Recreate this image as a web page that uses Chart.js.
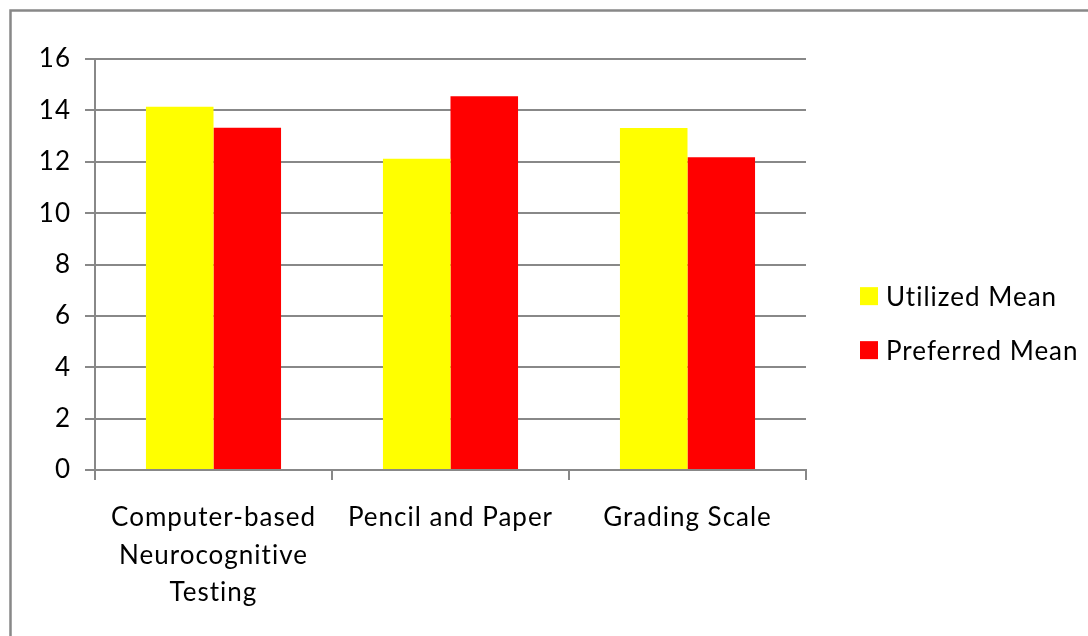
<!DOCTYPE html>
<html>
<head>
<meta charset="utf-8">
<script src="https://cdn.jsdelivr.net/npm/chart.js@4"></script>
<style>
  html, body { margin: 0; padding: 0; background: #fff; }
  #wrap { width: 1088px; height: 636px; position: relative; }
</style>
</head>
<body>
<div id="wrap"><canvas id="c" width="1088" height="636"></canvas></div>
<script>
// Assessment methods and their mean scores
const categories = [
  ['Computer-based', 'Neurocognitive', 'Testing'],
  'Pencil and Paper',
  'Grading Scale'
];
const seriesNames = ['Utilized Mean', 'Preferred Mean'];
const utilizedMean = [14.14, 12.12, 13.31];
const preferredMean = [13.32, 14.55, 12.18];
const yTicks = [0, 2, 4, 6, 8, 10, 12, 14, 16];

const FONT = 'Lato';
const GRID = '#888888';

// Frame around the chart (top and left edges visible)
const framePlugin = {
  id: 'frame',
  beforeDraw(chart) {
    const ctx = chart.ctx;
    ctx.save();
    ctx.fillStyle = '#ffffff';
    ctx.fillRect(0, 0, chart.width, chart.height);
    ctx.strokeStyle = GRID;
    ctx.lineWidth = 2.5;
    ctx.beginPath();
    ctx.moveTo(10.5, chart.height);
    ctx.lineTo(10.5, 10.5);
    ctx.lineTo(chart.width, 10.5);
    ctx.stroke();
    ctx.restore();
    ctx.letterSpacing = '1px';
  }
};

// Legend drawn to the right of the plot area
const sideLegend = {
  id: 'sideLegend',
  afterDraw(chart) {
    const ctx = chart.ctx;
    const area = chart.chartArea;
    const x = area.right + 54;
    const rowGap = 54;
    const firstY = area.top + (area.bottom - area.top) * 0.577;
    ctx.save();
    ctx.letterSpacing = '1px';
    ctx.font = '26px ' + FONT;
    ctx.textBaseline = 'middle';
    ctx.textAlign = 'left';
    chart.data.datasets.forEach((ds, i) => {
      const cy = firstY + i * rowGap;
      ctx.fillStyle = ds.backgroundColor;
      ctx.fillRect(x, cy - 9, 18, 18);
      ctx.fillStyle = '#000000';
      ctx.fillText(ds.label, x + 26, cy + 1);
    });
    ctx.restore();
  }
};

new Chart(document.getElementById('c'), {
  type: 'bar',
  data: {
    labels: categories,
    datasets: [
      { label: seriesNames[0], data: utilizedMean, backgroundColor: '#FFFF00', borderWidth: 0 },
      { label: seriesNames[1], data: preferredMean, backgroundColor: '#FF0000', borderWidth: 0 }
    ]
  },
  options: {
    responsive: false,
    animation: false,
    devicePixelRatio: 1,
    layout: { padding: { left: 0, top: 59, right: 282, bottom: 0 } },
    datasets: { bar: { categoryPercentage: 0.57, barPercentage: 1.0 } },
    plugins: { legend: { display: false }, tooltip: { enabled: false } },
    scales: {
      x: {
        offset: true,
        grid: { offset: true, drawOnChartArea: false, drawTicks: true, tickLength: 10, color: GRID, lineWidth: 2 },
        border: { display: true, color: GRID, width: 2 },
        ticks: { color: '#000', font: { family: FONT, size: 26, lineHeight: 1.44 }, padding: 19, maxRotation: 0, autoSkip: false },
        afterFit(scale) { scale.height = 166; }
      },
      y: {
        min: yTicks[0],
        max: yTicks[yTicks.length - 1],
        afterBuildTicks(scale) { scale.ticks = yTicks.map(v => ({ value: v })); },
        grid: { color: GRID, lineWidth: 2, drawTicks: true, tickLength: 10 },
        border: { display: true, color: GRID, width: 2 },
        ticks: { color: '#000', font: { family: FONT, size: 26 }, padding: 14 },
        afterFit(scale) { scale.width = 95; }
      }
    }
  },
  plugins: [framePlugin, sideLegend]
});
</script>
</body>
</html>
